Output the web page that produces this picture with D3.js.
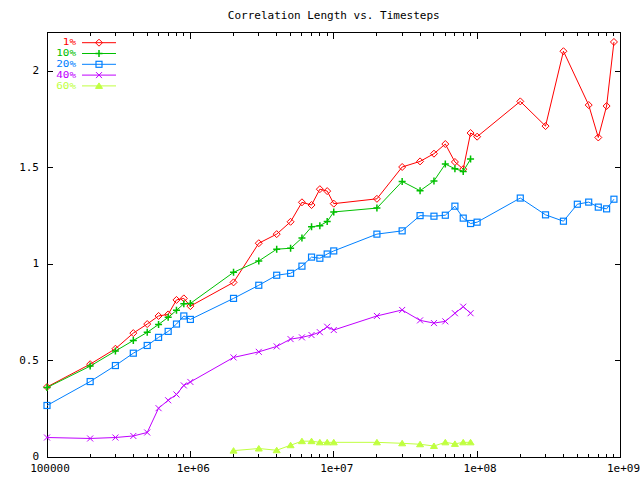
<!DOCTYPE html>
<html><head><meta charset="utf-8">
<script src="https://cdn.jsdelivr.net/npm/d3@7"></script>
<style>body{margin:0;background:#fff}svg{display:block}text{font-family:"DejaVu Sans Mono",monospace;font-size:11px}</style>
</head><body>
<script>
const title = "Correlation Length vs. Timesteps";
const timesteps = [1e5,2e5,3e5,4e5,5e5,6e5,7e5,8e5,9e5,
                   1e6,2e6,3e6,4e6,5e6,6e6,7e6,8e6,9e6,
                   1e7,2e7,3e7,4e7,5e7,6e7,7e7,8e7,9e7,
                   1e8,2e8,3e8,4e8,5e8,6e8,7e8,8e8,9e8];
const seriesNames = ["1%","10%","20%","40%","60%"];
const s1 = [0.363,0.481,0.561,0.642,0.689,0.731,0.739,0.814,0.822,
            0.782,0.905,1.108,1.155,1.219,1.320,1.306,1.388,1.378,
            1.313,1.338,1.503,1.532,1.572,1.622,1.529,1.492,1.679,
            1.660,1.843,1.715,2.103,null,1.824,1.656,1.819,2.151];
const s10 = [0.360,0.471,0.549,0.604,0.646,0.687,0.724,0.760,0.794,
             0.796,0.957,1.016,1.077,1.082,1.135,1.193,1.199,1.220,
             1.270,1.290,1.428,1.380,1.431,1.518,1.494,1.480,1.544,
             null,null,null,null,null,null,null,null,null];
const s20 = [0.267,0.391,0.474,0.538,0.578,0.620,0.651,0.689,0.731,
             0.713,0.822,0.890,0.942,0.952,0.989,1.036,1.030,1.052,
             1.068,1.155,1.172,1.251,1.248,1.253,1.300,1.238,1.210,
             1.217,1.342,1.255,1.222,1.310,1.321,1.295,1.286,1.336];
const s40 = [0.101,0.096,0.101,0.109,0.127,0.253,0.294,0.324,0.371,
             0.389,0.516,0.545,0.573,0.611,0.620,0.632,0.647,0.675,
             0.658,0.731,0.762,0.708,0.694,0.703,0.745,0.779,0.745,
             null,null,null,null,null,null,null,null,null];
const s60 = [null,null,null,null,null,null,null,null,null,
             null,0.033,0.044,0.035,0.061,0.082,0.082,0.076,0.076,
             0.076,0.076,0.071,0.066,0.057,0.076,0.068,0.076,0.076,
             null,null,null,null,null,null,null,null,null];
const xTicks = [1e5,1e6,1e7,1e8,1e9];
const xTickLabels = ["100000","1e+06","1e+07","1e+08","1e+09"];
const yTicks = [0,0.5,1,1.5,2];
const yTickLabels = ["0","0.5","1","1.5","2"];

const colors = ["#ff0000","#00c000","#0080ff","#c000ff","#c0ff40"];
const markers = ["diamond","plus","square","cross","triangle"];
const allSeries = [s1,s10,s20,s40,s60];

const W=640,H=480, L=47, R=620.5, T=32.5, B=457;
const x = d3.scaleLog().domain([1e5,1e9]).range([L,R]);
const y = d3.scaleLinear().domain([0,2.2]).range([B,T]);

const svg = d3.select("body").append("svg").attr("width",W).attr("height",H);

svg.append("text").attr("x",(L+R)/2).attr("y",16).attr("text-anchor","middle")
   .attr("dominant-baseline","middle").attr("fill","#000").text(title);

const ax = svg.append("g").attr("stroke","#000").attr("stroke-width",1).attr("shape-rendering","crispEdges");
ax.append("rect").attr("x",L).attr("y",T).attr("width",R-L).attr("height",B-T).attr("fill","none");
const minor = [];
for (let e=5;e<9;e++) for (let m=2;m<=9;m++) minor.push(m*Math.pow(10,e));
minor.forEach(v=>{
  ax.append("line").attr("x1",x(v)).attr("x2",x(v)).attr("y1",B).attr("y2",B-3);
  ax.append("line").attr("x1",x(v)).attr("x2",x(v)).attr("y1",T).attr("y2",T+3);
});
xTicks.forEach((v,i)=>{
  ax.append("line").attr("x1",x(v)).attr("x2",x(v)).attr("y1",B).attr("y2",B-6);
  ax.append("line").attr("x1",x(v)).attr("x2",x(v)).attr("y1",T).attr("y2",T+6);
  svg.append("text").attr("x",x(v)+3).attr("y",469).attr("text-anchor","middle")
     .attr("dominant-baseline","middle").text(xTickLabels[i]);
});
yTicks.forEach((v,i)=>{
  ax.append("line").attr("x1",L).attr("x2",L+6).attr("y1",y(v)).attr("y2",y(v));
  ax.append("line").attr("x1",R).attr("x2",R-6).attr("y1",y(v)).attr("y2",y(v));
  svg.append("text").attr("x",39).attr("y",y(v)).attr("text-anchor","end")
     .attr("dominant-baseline","middle").text(yTickLabels[i]);
});

function drawMarker(g,type,cx,cy,col){
  const s=3.5;
  if(type==="diamond") g.append("path").attr("d",`M${cx},${cy-s}L${cx+s},${cy}L${cx},${cy+s}L${cx-s},${cy}Z`).attr("fill","none").attr("stroke",col);
  else if(type==="plus") g.append("path").attr("d",`M${cx-s},${cy}H${cx+s}M${cx},${cy-s}V${cy+s}`).attr("stroke",col).attr("stroke-width",1.5);
  else if(type==="square") g.append("rect").attr("x",cx-3).attr("y",cy-3).attr("width",6).attr("height",6).attr("fill","none").attr("stroke",col).attr("stroke-width",1.2);
  else if(type==="cross") g.append("path").attr("d",`M${cx-3},${cy-3}L${cx+3},${cy+3}M${cx-3},${cy+3}L${cx+3},${cy-3}`).attr("stroke",col);
  else if(type==="triangle") g.append("path").attr("d",`M${cx},${cy-3}L${cx+3.5},${cy+2.5}L${cx-3.5},${cy+2.5}Z`).attr("fill",col).attr("stroke",col);
}

const line = d3.line().x(d=>x(d[0])).y(d=>y(d[1]));
allSeries.forEach((vals,k)=>{
  const pts = timesteps.map((t,i)=>[t,vals[i]]).filter(d=>d[1]!==null);
  const g = svg.append("g");
  g.append("path").datum(pts).attr("d",line).attr("fill","none").attr("stroke",colors[k]).attr("stroke-width",1);
  pts.forEach(d=>drawMarker(g,markers[k],x(d[0]),y(d[1]),colors[k]));
  const ly = 42.7 + k*10.8;
  svg.append("text").attr("transform",`translate(76,${ly}) scale(1.22,1)`)
     .attr("text-anchor","end").attr("dominant-baseline","middle")
     .style("font-size","9px").attr("fill",colors[k]).text(seriesNames[k]);
  g.append("line").attr("x1",82).attr("x2",116).attr("y1",ly).attr("y2",ly).attr("stroke",colors[k]);
  drawMarker(g,markers[k],99,ly,colors[k]);
});
</script>
</body></html>
